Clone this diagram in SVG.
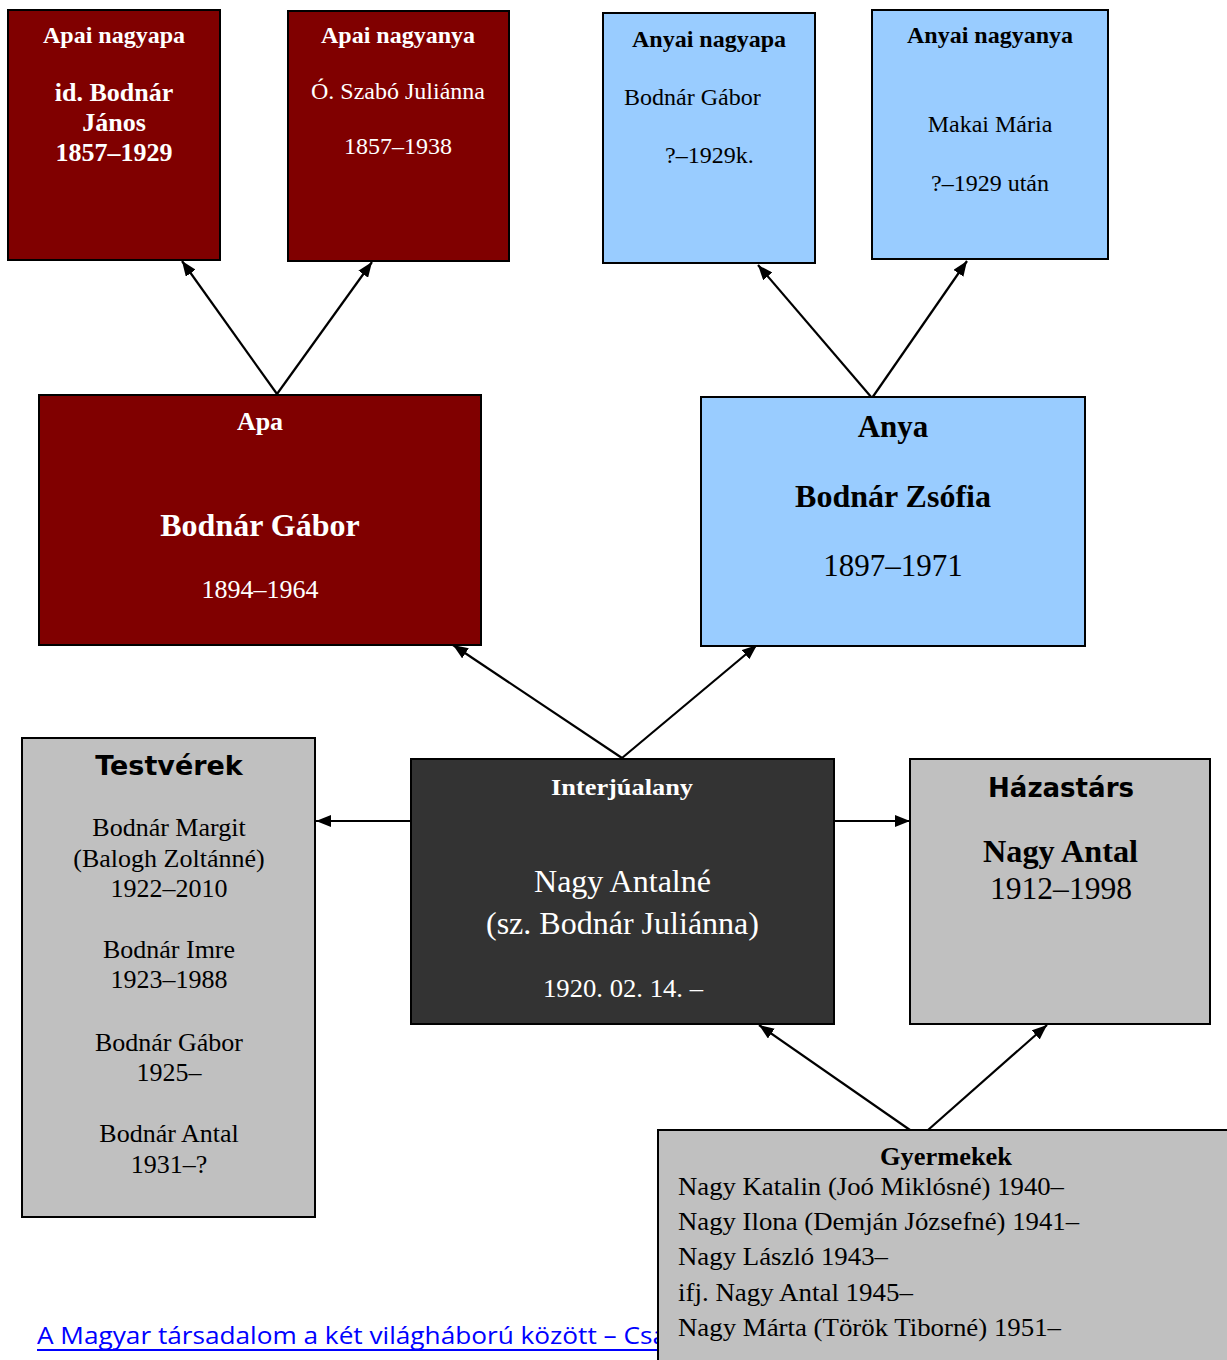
<svg xmlns="http://www.w3.org/2000/svg" width="1227" height="1360" viewBox="0 0 1227 1360">
<style>
.box{stroke:#000;stroke-width:2}
.red{fill:#800000}
.blue{fill:#99CCFF}
.grey{fill:#C0C0C0}
.dark{fill:#333333}
.s{font-family:"Liberation Serif","Times New Roman",serif}
.b{font-weight:bold}
.w{fill:#fff}
.k{fill:#000}
.sans{font-family:"DejaVu Sans",Verdana,sans-serif;font-weight:bold}
.c{text-anchor:middle}
.con{stroke:#000;stroke-width:2.2;fill:none;marker-end:url(#ah)}
</style>
<defs>
<marker id="ah" markerUnits="userSpaceOnUse" markerWidth="16" markerHeight="12" refX="15" refY="6" orient="auto">
<path d="M0,0 L15,6 L0,12 Z" fill="#000"/>
</marker>
</defs>
<rect width="1227" height="1360" fill="#fff"/>

<g id="connectors">
<line class="con" x1="277" y1="394" x2="182" y2="261"/>
<line class="con" x1="277" y1="394" x2="372" y2="262"/>
<line class="con" x1="872" y1="398" x2="758" y2="265"/>
<line class="con" x1="872" y1="398" x2="967" y2="261"/>
<line class="con" x1="622" y1="758" x2="453" y2="645"/>
<line class="con" x1="622" y1="758" x2="757" y2="645"/>
<line class="con" x1="411" y1="821" x2="316" y2="821"/>
<line class="con" x1="834" y1="821" x2="910" y2="821"/>
<line class="con" x1="910" y1="1130" x2="759" y2="1025"/>
<line class="con" x1="928" y1="1130" x2="1047" y2="1025"/>
</g>

<g id="apai-nagyapa">
<rect class="box red" x="8" y="10" width="212" height="250"/>
<text class="s b w c" x="114" y="43" font-size="24">Apai nagyapa</text>
<text class="s b w c" x="114" y="101" font-size="26">id. Bodnár</text>
<text class="s b w c" x="114" y="131" font-size="26">János</text>
<text class="s b w c" x="114" y="161" font-size="26">1857–1929</text>
</g>

<g id="apai-nagyanya">
<rect class="box red" x="288" y="11" width="221" height="250"/>
<text class="s b w c" x="398" y="43" font-size="24">Apai nagyanya</text>
<text class="s w c" x="398" y="99" font-size="24">Ó. Szabó Juliánna</text>
<text class="s w c" x="398" y="154" font-size="24">1857–1938</text>
</g>

<g id="anyai-nagyapa">
<rect class="box blue" x="603" y="13" width="212" height="250"/>
<text class="s b k c" x="709" y="47" font-size="24">Anyai nagyapa</text>
<text class="s k" x="624" y="105" font-size="24">Bodnár Gábor</text>
<text class="s k" x="665" y="163" font-size="24">?–1929k.</text>
</g>

<g id="anyai-nagyanya">
<rect class="box blue" x="872" y="10" width="236" height="249"/>
<text class="s b k c" x="990" y="43" font-size="24">Anyai nagyanya</text>
<text class="s k c" x="990" y="132" font-size="24">Makai Mária</text>
<text class="s k c" x="990" y="191" font-size="24">?–1929 után</text>
</g>

<g id="apa">
<rect class="box red" x="39" y="395" width="442" height="250"/>
<text class="s b w c" x="260" y="430" font-size="26">Apa</text>
<text class="s b w c" x="260" y="536" font-size="32">Bodnár Gábor</text>
<text class="s w c" x="260" y="598" font-size="26">1894–1964</text>
</g>

<g id="anya">
<rect class="box blue" x="701" y="397" width="384" height="249"/>
<text class="s b k c" x="893" y="437" font-size="31">Anya</text>
<text class="s b k c" x="893" y="507" font-size="32">Bodnár Zsófia</text>
<text class="s k c" x="893" y="576" font-size="31">1897–1971</text>
</g>

<g id="testverek">
<rect class="box grey" x="22" y="738" width="293" height="479"/>
<text class="sans k c" x="169" y="775" font-size="27">Testvérek</text>
<g class="s k c" font-size="26">
<text x="169" y="836">Bodnár Margit</text>
<text x="169" y="867">(Balogh Zoltánné)</text>
<text x="169" y="897">1922–2010</text>
<text x="169" y="958">Bodnár Imre</text>
<text x="169" y="988">1923–1988</text>
<text x="169" y="1051">Bodnár Gábor</text>
<text x="169" y="1081">1925–</text>
<text x="169" y="1142">Bodnár Antal</text>
<text x="169" y="1173">1931–?</text>
</g>
</g>

<g id="interjualany">
<rect class="box dark" x="411" y="759" width="423" height="265"/>
<text class="s b w" x="551" y="795" font-size="24" textLength="142" lengthAdjust="spacingAndGlyphs">Interjúalany</text>
<text class="s w" x="534" y="892" font-size="31" textLength="177" lengthAdjust="spacingAndGlyphs">Nagy Antalné</text>
<text class="s w" x="486" y="934" font-size="31" textLength="273" lengthAdjust="spacingAndGlyphs">(sz. Bodnár Juliánna)</text>
<text class="s w" x="543" y="997" font-size="25" textLength="160" lengthAdjust="spacingAndGlyphs">1920. 02. 14. –</text>
</g>

<g id="hazastars">
<rect class="box grey" x="910" y="759" width="300" height="265"/>
<text class="sans k" x="988" y="797" font-size="26" textLength="146" lengthAdjust="spacingAndGlyphs">Házastárs</text>
<text class="s b k" x="983" y="862" font-size="31" textLength="155" lengthAdjust="spacingAndGlyphs">Nagy Antal</text>
<text class="s k" x="990" y="899" font-size="31" textLength="142" lengthAdjust="spacingAndGlyphs">1912–1998</text>
</g>

<text x="37" y="1344" font-family="'Open Sans','Noto Sans',sans-serif" font-size="24" fill="#0000FF" textLength="630" lengthAdjust="spacingAndGlyphs">A Magyar társadalom a két világháború között – Csa</text>
<line x1="37" y1="1350" x2="658" y2="1350" stroke="#0000FF" stroke-width="2"/>

<g id="gyermekek">
<rect class="box grey" x="658" y="1130" width="580" height="240"/>
<text class="s b k" x="880" y="1165" font-size="25" textLength="132" lengthAdjust="spacingAndGlyphs">Gyermekek</text>
<g class="s k" font-size="26">
<text x="678" y="1195" textLength="386" lengthAdjust="spacingAndGlyphs">Nagy Katalin (Joó Miklósné) 1940–</text>
<text x="678" y="1230" textLength="401" lengthAdjust="spacingAndGlyphs">Nagy Ilona (Demján Józsefné) 1941–</text>
<text x="678" y="1265" textLength="210" lengthAdjust="spacingAndGlyphs">Nagy László 1943–</text>
<text x="678" y="1301" textLength="235" lengthAdjust="spacingAndGlyphs">ifj. Nagy Antal 1945–</text>
<text x="678" y="1336" textLength="383" lengthAdjust="spacingAndGlyphs">Nagy Márta (Török Tiborné) 1951–</text>
</g>
</g>
</svg>
